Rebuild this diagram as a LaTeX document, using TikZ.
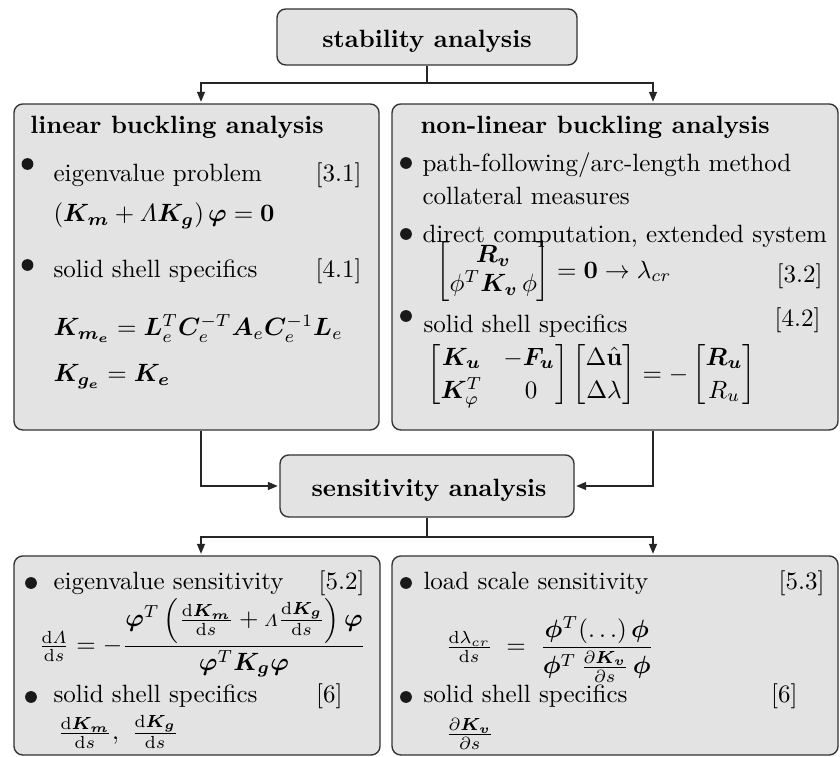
\documentclass[tikz,border=0pt]{standalone}
\usepackage{amsmath,amssymb,bm}
\usetikzlibrary{arrows.meta}
\tikzset{
  panel/.style={draw=black!80, fill=black!11, rounded corners=3.5pt, line width=0.55pt, inner sep=0pt},
  txt/.style={anchor=base west, inner sep=0pt},
  refno/.style={anchor=base east, inner sep=0pt},
  mathblk/.style={anchor=west, inner sep=0pt},
  bul/.style={circle, fill=black!90, inner sep=0pt, minimum size=4.7pt},
  link/.style={line width=0.6pt, draw=black!85},
  arr/.style={link, -{Triangle[length=4pt,width=3.2pt]}, shorten >=0.6pt},
}
\begin{document}
\begin{tikzpicture}[x=0.4pt,y=-0.4pt]
\useasboundingbox (0,0) rectangle (840,757);
% boxes
\node[panel, minimum width=120pt, minimum height=22.4pt] (top) at (427,37) {};
\node[panel, minimum width=146pt, minimum height=130.4pt] (left) at (196.5,267) {};
\node[panel, minimum width=178.4pt, minimum height=130.4pt] (right) at (615,267) {};
\node[panel, minimum width=117.6pt, minimum height=24.8pt] (sens) at (427,486) {};
\node[panel, minimum width=146.4pt, minimum height=79.6pt] (bl) at (197,655.5) {};
\node[panel, minimum width=178.4pt, minimum height=79.6pt] (br) at (615,655.5) {};
% titles
\node[anchor=base, inner sep=0pt] (toptxt) at (427,48) {\bfseries stability analysis};
\node[anchor=base, inner sep=0pt] (senstxt) at (429,497) {\bfseries sensitivity analysis};
% connectors
\coordinate (j1) at (427,83);
\coordinate (cL) at (201,0);
\coordinate (cR) at (653,0);
\coordinate (j2) at (427,537);
\draw[link] (top.south) -- (j1);
\draw[arr] (j1) -| (cL |- left.north);
\draw[arr] (j1) -| (cR |- right.north);
\draw[arr] (cL |- left.south) |- (sens.west);
\draw[arr] (cR |- right.south) |- (sens.east);
\draw[link] (sens.south) -- (j2);
\draw[arr] (j2) -| (cL |- bl.north);
\draw[arr] (j2) -| (cR |- br.north);
% left box
\node[txt] (lt) at (30,134) {\bfseries linear buckling analysis};
\node[bul] (lb1) at (27.5,164) {};
\node[txt] (l1) at (53,182) {eigenvalue problem};
\node[refno] (r31) at (362,182) {[3.1]};
\node[txt] (lf1) at (53,222) {$\left(\bm{K_m}+\varLambda\bm{K_g}\right)\bm{\varphi}=\mathbf{0}$};
\node[bul] (lb2) at (27.5,265) {};
\node[txt] (l2) at (53,278) {solid shell specifics};
\node[refno] (r41) at (362,278) {[4.1]};
\node[txt] (lf2) at (53,336) {$\bm{K_{m_e}}=\bm{L}_e^T\bm{C}_e^{-T}\bm{A}_e\bm{C}_e^{-1}\bm{L}_e$};
\node[txt] (lf3) at (53,382) {$\bm{K_{g_e}}=\bm{K_e}$};
% right box
\node[txt] (rt) at (420,134) {\bfseries non-linear buckling analysis};
\node[bul] (rb1) at (406,163) {};
\node[txt] (r1) at (422,172) {path-following/arc-length method};
\node[txt] (r1b) at (422,205) {collateral measures};
\node[bul] (rb2) at (406,234) {};
\node[txt] (r2) at (422,243) {direct computation, extended system};
\node[mathblk] (rf1) at (436,272) {\renewcommand{\arraystretch}{0.85}$\begin{bmatrix}\bm{R_v}\\ \phi^T\bm{K_v}\,\phi\end{bmatrix}=\mathbf{0}\to\lambda_{cr}$};
\node[refno] (r32) at (823,283) {[3.2]};
\node[bul] (rb3) at (406,316) {};
\node[txt] (r3) at (423,333) {solid shell specifics};
\node[refno] (r42) at (821,327) {[4.2]};
\node[mathblk] (rf2) at (427,375) {\renewcommand{\arraystretch}{1.1}$\begin{bmatrix}\bm{K_u}&\!-\bm{F_u}\\ \bm{K}^T_{\varphi}&0\end{bmatrix}\begin{bmatrix}\Delta\hat{\mathbf{u}}\\ \Delta\lambda\end{bmatrix}=-\begin{bmatrix}\bm{R_u}\\ R_u\end{bmatrix}$};
% bottom left
\node[bul] (bb1) at (31,583) {};
\node[txt] (b1) at (53,590) {eigenvalue sensitivity};
\node[refno] (r52) at (365,590) {[5.2]};
\node[txt] (bf1) at (38,653) {$\frac{\mathrm{d}\varLambda}{\mathrm{d}s}=-\dfrac{\bm{\varphi}^T\left(\frac{\mathrm{d}\bm{K_m}}{\mathrm{d}s}+{\scriptstyle\varLambda}\frac{\mathrm{d}\bm{K_g}}{\mathrm{d}s}\right)\bm{\varphi}}{\bm{\varphi}^T\bm{K_g}\bm{\varphi}}$};
\node[bul] (bb2) at (31,697) {};
\node[txt] (b2) at (53,703) {solid shell specifics};
\node[refno] (r6a) at (343,703) {[6]};
\node[txt] (bf2) at (57,740) {$\frac{\mathrm{d}\bm{K_m}}{\mathrm{d}s},\ \frac{\mathrm{d}\bm{K_g}}{\mathrm{d}s}$};
% bottom right
\node[bul] (cb1) at (406,583) {};
\node[txt] (c1) at (423,590) {load scale sensitivity};
\node[refno] (r53) at (825,590) {[5.3]};
\node[txt] (cf1) at (445,654) {$\frac{\mathrm{d}\lambda_{cr}}{\mathrm{d}s}\;=\;\dfrac{\bm{\phi}^T(\ldots)\,\bm{\phi}}{\bm{\phi}^T\,\frac{\partial\bm{K_v}}{\partial s}\,\bm{\phi}}$};
\node[bul] (cb2) at (406,697) {};
\node[txt] (c2) at (423,703) {solid shell specifics};
\node[refno] (r6b) at (798,703) {[6]};
\node[txt] (cf2) at (445,741) {$\frac{\partial\bm{K_v}}{\partial s}$};
\end{tikzpicture}
\end{document}
